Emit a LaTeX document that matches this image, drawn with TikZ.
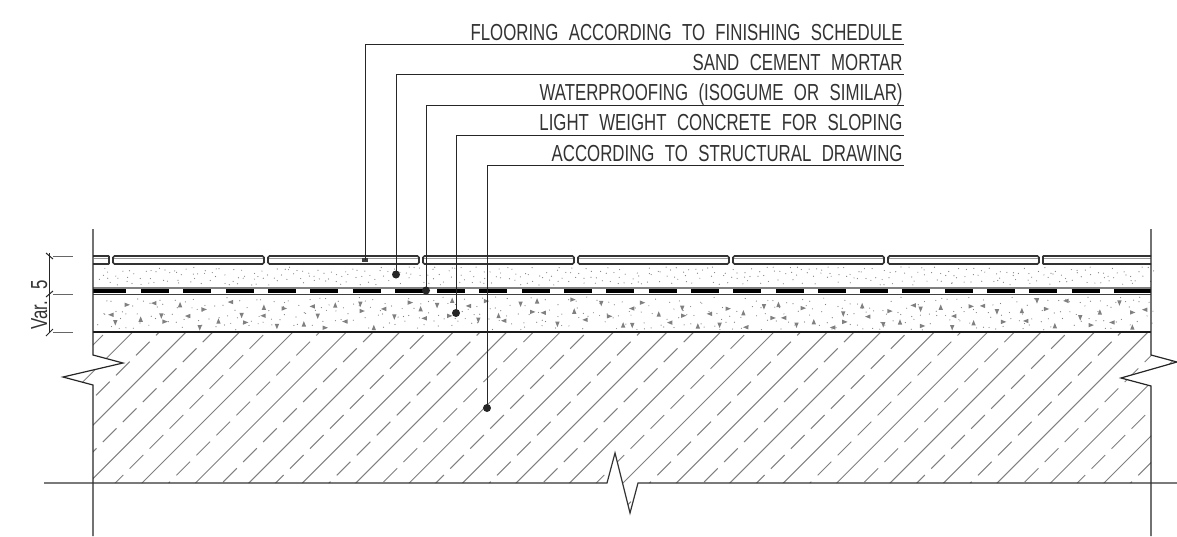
\documentclass[tikz,border=0pt]{standalone}
\usepackage{fontspec}
\setmainfont[FakeStretch=0.725]{Liberation Sans}
\newcommand{\wgap}{\hspace{7.8pt}}
\tikzset{every picture/.style={line width=0.75pt}}
\tikzset{
  leaderline/.style={line width=0.75pt,color=black!85},
  leaderdot/.style={circle,fill=black!85,inner sep=0pt,minimum size=6pt},
  leadersq/.style={rectangle,fill=black!75,inner sep=0pt,minimum width=4pt,minimum height=3pt},
  notetext/.style={anchor=base east,inner sep=0.75pt,font=\fontsize{17.4pt}{18pt}\selectfont,color=black!80},
  dimtext/.style={anchor=base west,inner sep=0pt,rotate=90,font=\fontsize{17.4pt}{18pt}\selectfont,color=black!80},
  tile/.style={line width=1.2pt,color=black!80,rounded corners=1.2pt},
  hatchline/.style={line width=0.75pt,color=black!50},
  speck/.style={fill=black!50},
}
\begin{document}
\begin{tikzpicture}[x=0.75pt,y=0.75pt,yscale=-1,xscale=1]

\useasboundingbox (0,0) rectangle (1177,536);

% hatch
\begin{scope}
\clip (93,332) -- (1151,332) -- (1151,355) -- (1177,362) -- (1121,378) -- (1151,386) -- (1151,483) -- (638,483) -- (630,513) -- (615,453) -- (607,483) -- (93,483) -- (93,385) -- (63,377) -- (123,363) -- (93,355) -- cycle;
\foreach \k in {0,...,22} {
  \pgfmathsetmacro\xs{132.7+53.44*\k}
  \draw [hatchline] (\xs,332) -- (\xs-230,562);
}
\foreach \k in {-1,...,22} {
  \pgfmathsetmacro\xd{159.4+53.44*\k}
  \pgfmathsetmacro\dd{mod(9.7+6.67*\k+20,20)}
  \pgfmathsetmacro\ph{21.2-\dd*1.0607}
  \draw [hatchline,dash pattern=on 14.5pt off 6.7pt,dash phase=\ph pt] (\xd,332) -- (\xd-230,562);
}
\end{scope}

% stipple
\pgfmathsetseed{41}
\foreach \i in {1,...,400} {
  \pgfmathsetmacro\px{94+2.64*\i+rnd*5}
  \pgfmathsetmacro\py{267+18*mod(\i*0.618+0.3*rnd,1)}
  \fill [speck] (\px,\py) circle (0.6);
}
\foreach \i in {1,...,400} {
  \pgfmathsetmacro\px{94+2.64*\i+rnd*5}
  \pgfmathsetmacro\py{297+33*mod(\i*0.618+0.3*rnd,1)}
  \fill [speck] (\px,\py) circle (0.6);
}
\foreach \i in {1,...,105} {
  \pgfmathsetmacro\px{92+10*\i+rnd*12}
  \pgfmathsetmacro\py{299+29*mod(\i*0.382+0.3*rnd,1)}
  \pgfmathsetmacro\ang{90*mod(\i*3,4)-90}
  \fill [black!50,shift={(\px,\py)},rotate=\ang] (-2.6,-2.2) -- (2.8,0) -- (-2.6,2.2) -- cycle;
}

% flooring tiles
\draw [tile] (93,256) -- (107,256) .. controls (109,256) and (109,257) .. (109,258) -- (109,262) .. controls (109,263) and (109,264) .. (107,264) -- (93,264);
\foreach \x in {113,268,423,578,733,888} {
  \draw [tile] (\x,256) rectangle (\x+151,264);
  \draw [line width=0.9pt,color=black!40] (\x+1,258.5) -- (\x+150,258.5);
}
\draw [tile] (1151,256) -- (1045,256) .. controls (1043,256) and (1043,257) .. (1043,258) -- (1043,262) .. controls (1043,263) and (1043,264) .. (1045,264) -- (1151,264);
\draw [line width=0.9pt,color=black!40] (94,258.5) -- (108,258.5);
\draw [line width=0.9pt,color=black!40] (1044,258.5) -- (1151,258.5);

% waterproofing
\draw [line width=1.5pt,color=black!50] (93,287.5) -- (1151,287.5);
\draw [line width=2.5pt] (93,291) -- (126,291);
\foreach \k in {0,...,23} {
  \pgfmathsetmacro\xw{141+42.3*\k}
  \draw [line width=2.5pt] (\xw,291) -- (\xw+28,291);
}
\draw [line width=2.5pt] (1119,291) -- (1151,291);
\draw [line width=1.1pt,color=black!75] (93,294.5) -- (1151,294.5);
\draw [line width=1.7pt,color=black!90] (93,332) -- (1151,332);

% outlines and breaks
\draw [line width=0.9pt,color=black!85] (93,229) -- (93,355) -- (123,363) -- (63,377) -- (93,385) -- (93,536);
\draw [line width=0.9pt,color=black!85] (1151,229) -- (1151,355) -- (1177,362) -- (1121,378) -- (1151,386) -- (1151,536);
\draw [line width=0.9pt,color=black!80] (44,483) -- (607,483) -- (615,453) -- (630,513) -- (638,483) -- (1177,483);

% dimension
\draw [line width=0.75pt,color=black!85] (49,253) -- (49,332);
\draw [line width=0.75pt,color=black!60] (53,256) -- (73,256);
\draw [line width=0.75pt,color=black!60] (53,294) -- (73,294);
\draw [line width=0.75pt,color=black!60] (53,332) -- (73,332);
\draw [line width=0.75pt,color=black!85] (46,253) -- (53,259);
\draw [line width=0.75pt,color=black!85] (46,297) -- (53,291);
\draw [line width=0.75pt,color=black!85] (46,336) -- (53,329);
\draw (47,330) node (txtVar) [dimtext] {Var.};
\draw (47,290) node (txtFive) [dimtext] {5};

% notes
\draw (904,40) node (lblFlooring) [notetext] {FLOORING\wgap ACCORDING\wgap TO\wgap FINISHING\wgap SCHEDULE};
\draw (904,70.3) node (lblSand) [notetext] {SAND\wgap CEMENT\wgap MORTAR};
\draw (904,100.6) node (lblWater) [notetext] {WATERPROOFING\wgap (ISOGUME\wgap OR\wgap SIMILAR)};
\draw (904,130.9) node (lblLight) [notetext] {LIGHT\wgap WEIGHT\wgap CONCRETE\wgap FOR\wgap SLOPING};
\draw (904,161.2) node (lblStruct) [notetext] {ACCORDING\wgap TO\wgap STRUCTURAL\wgap DRAWING};

\coordinate (endFlooring) at (904,44.5);
\coordinate (endSand) at (904,74.8);
\coordinate (endWater) at (904,105.1);
\coordinate (endLight) at (904,135.4);
\coordinate (endStruct) at (904,165.7);

\draw (365,260) node (ptFlooring) [leadersq] {};
\draw (396,274.5) node (ptSand) [leaderdot] {};
\draw (426,290.5) node (ptWater) [leaderdot] {};
\draw (456,313) node (ptLight) [leaderdot] {};
\draw (487,408) node (ptStruct) [leaderdot] {};

\draw [leaderline] (ptFlooring.center) |- (endFlooring);
\draw [leaderline] (ptSand.center) |- (endSand);
\draw [leaderline] (ptWater.center) |- (endWater);
\draw [leaderline] (ptLight.center) |- (endLight);
\draw [leaderline] (ptStruct.center) |- (endStruct);

\end{tikzpicture}
\end{document}
